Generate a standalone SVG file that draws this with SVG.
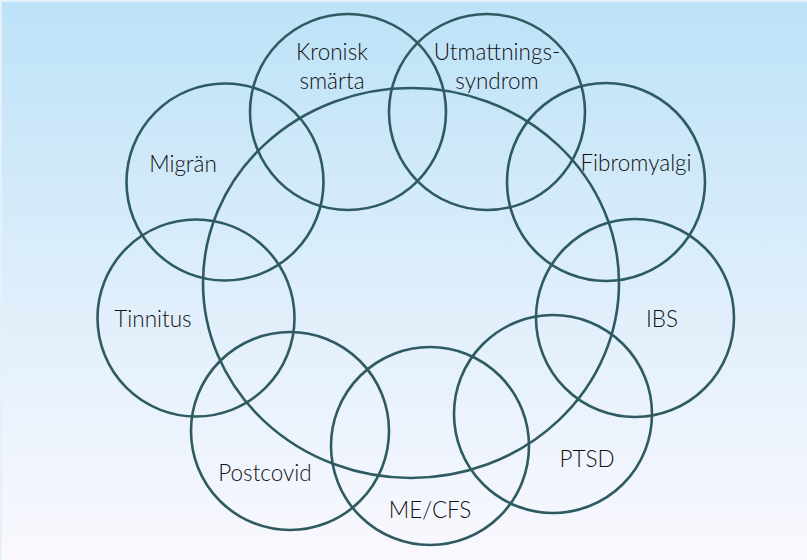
<svg xmlns="http://www.w3.org/2000/svg" width="807" height="560" viewBox="0 0 807 560">
  <defs>
    <linearGradient id="bg" x1="0" y1="0" x2="0" y2="1">
      <stop offset="0" stop-color="#bde2f8"/>
      <stop offset="0.5" stop-color="#ddeefa"/>
      <stop offset="1" stop-color="#faf8fe"/>
    </linearGradient>
    <style>
      .c { fill: none; stroke: #2e5b61; stroke-width: 2.6; }
      .t { font-family: Lato, "Open Sans", "Liberation Sans", sans-serif; font-size: 22.5px; font-weight: 300; fill: #111111; text-anchor: middle; }
    </style>
  </defs>
  <rect x="0" y="0" width="807" height="560" fill="#e4f1fa"/>
  <rect x="2" y="2" width="805" height="558" fill="url(#bg)"/>

  <g id="center">
    <ellipse class="c" cx="411" cy="283" rx="208" ry="195"/>
  </g>
  <g id="kronisk">
    <circle class="c" cx="348" cy="112" r="98"/>
    <text class="t" x="332" y="60">Kronisk</text>
    <text class="t" x="332" y="89">smärta</text>
  </g>
  <g id="utmattning">
    <circle class="c" cx="487" cy="112" r="98"/>
    <text class="t" x="497" y="60">Utmattnings-</text>
    <text class="t" x="497" y="89">syndrom</text>
  </g>
  <g id="migran">
    <circle class="c" cx="225" cy="182" r="98.5"/>
    <text class="t" x="183" y="172">Migrän</text>
  </g>
  <g id="fibromyalgi">
    <circle class="c" cx="606" cy="182" r="99"/>
    <text class="t" x="636" y="171">Fibromyalgi</text>
  </g>
  <g id="tinnitus">
    <circle class="c" cx="196" cy="318" r="98.5"/>
    <text class="t" x="153" y="327">Tinnitus</text>
  </g>
  <g id="ibs">
    <circle class="c" cx="635" cy="318" r="99"/>
    <text class="t" x="662" y="327">IBS</text>
  </g>
  <g id="postcovid">
    <circle class="c" cx="290" cy="431" r="99"/>
    <text class="t" x="265" y="481">Postcovid</text>
  </g>
  <g id="mecfs">
    <circle class="c" cx="430" cy="446" r="99"/>
    <text class="t" x="430" y="518">ME/CFS</text>
  </g>
  <g id="ptsd">
    <circle class="c" cx="553" cy="414" r="99"/>
    <text class="t" x="587" y="467">PTSD</text>
  </g>
  <g id="connectors"/>
</svg>
